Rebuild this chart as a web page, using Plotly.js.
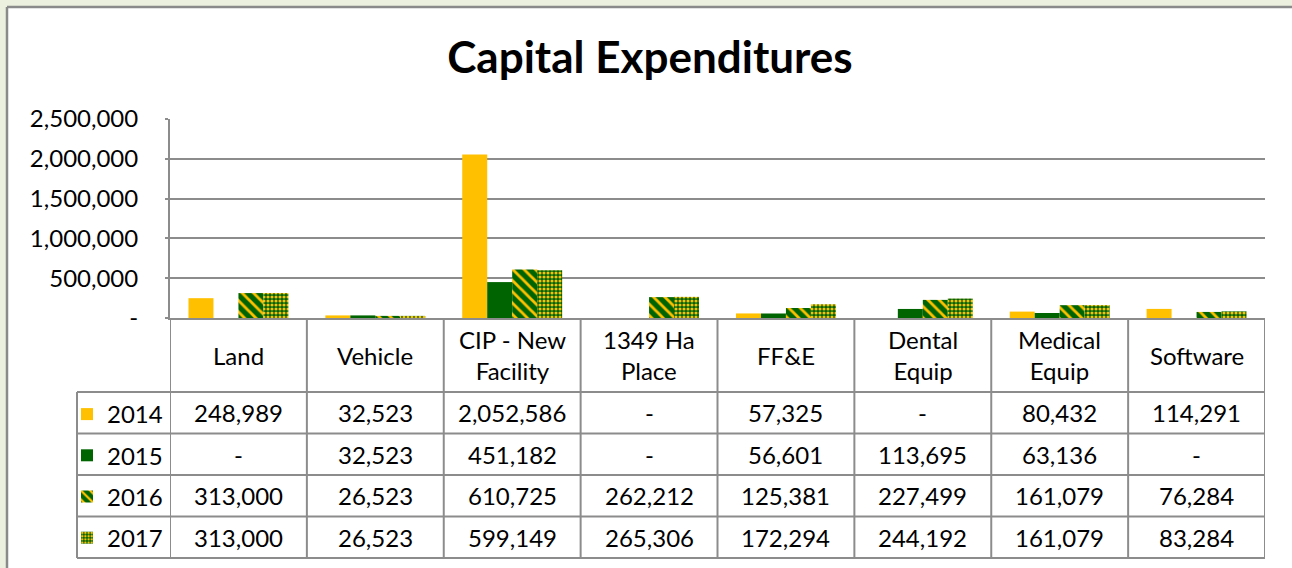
<!DOCTYPE html>
<html>
<head>
<meta charset="utf-8">
<script src="https://cdn.plot.ly/plotly-3.0.1.min.js"></script>
<style>html,body{margin:0;padding:0;background:#EBF1DE;}#chart{width:1292px;height:568px;}</style>
</head>
<body>
<div id="chart"></div>
<script>
// ---- data ----
var categories = ['Land', 'Vehicle', 'CIP - New<br>Facility', '1349 Ha<br>Place', 'FF&E', 'Dental<br>Equip', 'Medical<br>Equip', 'Software'];
var years = ['2014', '2015', '2016', '2017'];
var v2014 = [248989, 32523, 2052586, 0, 57325, 0, 80432, 114291];
var v2015 = [0, 32523, 451182, 0, 56601, 113695, 63136, 0];
var v2016 = [313000, 26523, 610725, 262212, 125381, 227499, 161079, 76284];
var v2017 = [313000, 26523, 599149, 265306, 172294, 244192, 161079, 83284];
var yTickVals = [0, 500000, 1000000, 1500000, 2000000, 2500000];
var yTickText = ['-', '500,000', '1,000,000', '1,500,000', '2,000,000', '2,500,000'];
var chartTitle = 'Capital Expenditures';

// ---- layout helpers (pixel -> paper) ----
var W = 1292, H = 568;
function px(x) { return x / W; }
function py(y) { return 1 - y / H; }
var YELLOW = '#FFC000', GREEN = '#006400', GRID = '#8c8c8c', FONT = 'Lato, "Open Sans", sans-serif';
var FS = 24;

var series = [v2014, v2015, v2016, v2017];
var markers = [
  {color: YELLOW},
  {color: GREEN},
  {color: GREEN, pattern: {shape: '\\', bgcolor: GREEN, fgcolor: YELLOW, size: 8, solidity: 0.35, fillmode: 'replace'}},
  {color: GREEN, pattern: {shape: '.', bgcolor: GREEN, fgcolor: YELLOW, size: 4, solidity: 0.45, fillmode: 'replace'}}
];

var traces = series.map(function (vals, i) {
  var m = markers[i];
  m.line = {width: 0};
  return {
    type: 'bar', name: years[i], x: categories, y: vals, marker: m,
    legendgroup: 'g' + i, hoverinfo: 'x+y'
  };
});

function fmt(v) { return (v === 0 || v === null) ? '-' : v.toLocaleString('en-US'); }

// table geometry (pixels)
var tableTop = 318, headerBottom = 392, rowH = 41.5, legendLeft = 77;
var rowYs = years.map(function (_, r) { return headerBottom + r * rowH; });
var tableBottom = headerBottom + years.length * rowH;

var shapes = [];
// white chart box (fill) and its top / left border
shapes.push({type: 'rect', xref: 'paper', yref: 'paper', x0: px(7), x1: 1, y0: 0, y1: py(7),
  fillcolor: '#ffffff', line: {width: 0}, layer: 'below'});
shapes.push({type: 'line', xref: 'paper', yref: 'paper', x0: px(7), x1: 1, y0: py(7), y1: py(7),
  line: {color: '#8a8a8a', width: 2.5}, layer: 'below'});
shapes.push({type: 'line', xref: 'paper', yref: 'paper', x0: px(7), x1: px(7), y0: 0, y1: py(7),
  line: {color: '#8a8a8a', width: 2.5}, layer: 'below'});
// horizontal row lines
rowYs.concat([tableBottom]).forEach(function (y) {
  shapes.push({type: 'line', xref: 'paper', yref: 'paper', x0: px(legendLeft), x1: px(1265), y0: py(y), y1: py(y),
    line: {color: GRID, width: 2}});
});
// vertical category boundaries
for (var i = 0; i <= categories.length; i++) {
  shapes.push({type: 'line', xref: 'x', yref: 'paper', x0: i - 0.5, x1: i - 0.5, y0: py(tableTop), y1: py(tableBottom),
    line: {color: GRID, width: 2}});
}
// legend column left edge
shapes.push({type: 'line', xref: 'paper', yref: 'paper', x0: px(legendLeft), x1: px(legendLeft), y0: py(headerBottom), y1: py(tableBottom),
  line: {color: GRID, width: 2}});

var annotations = [];
categories.forEach(function (c, i) {
  annotations.push({xref: 'x', yref: 'paper', x: i, y: py((tableTop + headerBottom) / 2), text: c, showarrow: false,
    xanchor: 'center', yanchor: 'middle', font: {family: FONT, size: FS, color: '#000'}});
  series.forEach(function (vals, r) {
    annotations.push({xref: 'x', yref: 'paper', x: i, y: py(rowYs[r] + rowH / 2), text: fmt(vals[i]), showarrow: false,
      xanchor: 'center', yanchor: 'middle', font: {family: FONT, size: FS, color: '#000'}});
  });
});

var layout = {
  width: W, height: H,
  margin: {l: 0, r: 0, t: 0, b: 0},
  paper_bgcolor: '#EBF1DE', plot_bgcolor: 'rgba(0,0,0,0)',
  title: {text: chartTitle, xref: 'paper', yref: 'paper', x: px(650), y: py(58), xanchor: 'center', yanchor: 'middle',
    font: {family: FONT, size: 44, color: '#000', weight: 'bold'}},
  barmode: 'group', bargap: 0.27, bargroupgap: 0,
  xaxis: {domain: [px(170), px(1265)], range: [-0.5, categories.length - 0.5], showticklabels: false, ticks: '',
    showline: true, linecolor: GRID, linewidth: 2, showgrid: false, zeroline: false, fixedrange: true},
  yaxis: {domain: [py(318), py(119)], range: [0, 2500000], tickvals: yTickVals, ticktext: yTickText,
    showgrid: true, gridcolor: GRID, gridwidth: 2, showline: true, linecolor: GRID, linewidth: 2,
    ticks: 'outside', ticklen: 3, tickcolor: GRID, tickwidth: 2, ticklabelstandoff: 22,
    tickfont: {family: FONT, size: FS, color: '#000'}, zeroline: false, fixedrange: true},
  showlegend: true,
  legend: {x: px(67), y: py(392), xanchor: 'left', yanchor: 'top', traceorder: 'grouped', tracegroupgap: 7,
    font: {family: FONT, size: FS, color: '#000'}, bgcolor: 'rgba(0,0,0,0)', itemwidth: 30},
  shapes: shapes, annotations: annotations
};

Plotly.newPlot('chart', traces, layout, {displayModeBar: false, staticPlot: true});
</script>
</body>
</html>
